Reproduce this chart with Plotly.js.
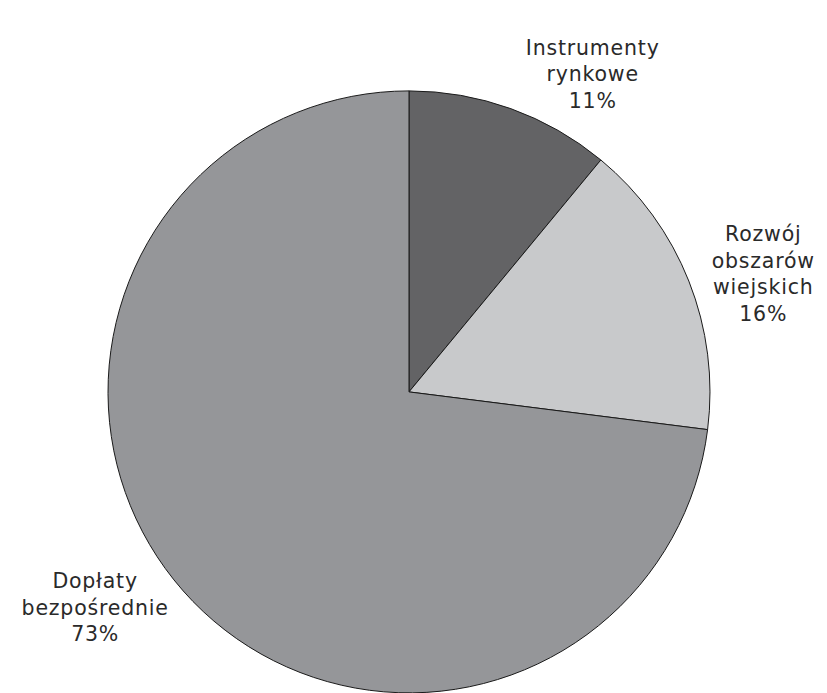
<!DOCTYPE html>
<html>
<head>
<meta charset="utf-8">
<script src="https://cdn.plot.ly/plotly-3.0.1.min.js"></script>
<style>html,body{margin:0;padding:0;background:#fff;}#chart{width:827px;height:693px;}
#chart .slicetext text{letter-spacing:0.8px;}</style>
</head>
<body>
<div id="chart"></div>
<script>
const categories = ["Instrumenty<br>rynkowe", "Rozwój<br>obszarów<br>wiejskich", "Dopłaty<br>bezpośrednie"];
const values = [11, 16, 73];
const colors = ["#636365", "#c8c9cb", "#959699"];

Plotly.newPlot("chart", [{
  type: "pie",
  labels: categories,
  values: values,
  sort: false,
  direction: "clockwise",
  rotation: 0,
  marker: {colors: colors, line: {color: "#1a1a1a", width: 1}},
  textposition: "outside",
  texttemplate: "%{label}<br>%{percent:.0%}",
  textfont: {family: "DejaVu Sans", size: 20.5, color: "#2a2a2a"},
  hoverinfo: "none",
  domain: {x: [0.1306, 0.8585], y: [0, 0.869]},
  showlegend: false
}], {
  width: 827, height: 693,
  margin: {l: 0, r: 0, t: 0, b: 0},
  paper_bgcolor: "#fff",
  showlegend: false
}, {displayModeBar: false, staticPlot: true});
</script>
</body>
</html>
